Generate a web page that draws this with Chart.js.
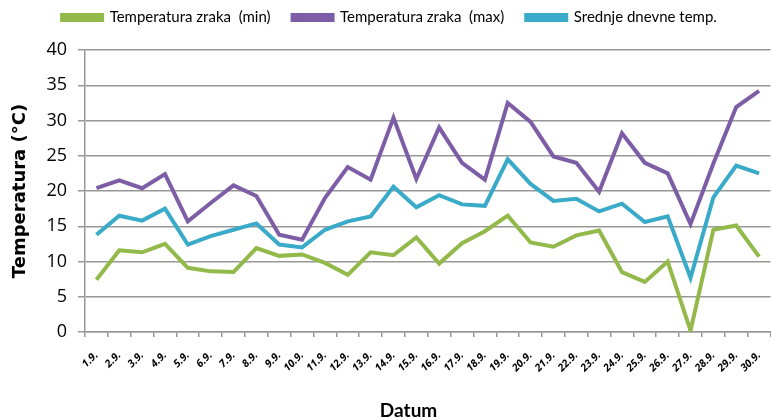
<!DOCTYPE html>
<html>
<head>
<meta charset="utf-8">
<script src="https://cdn.jsdelivr.net/npm/chart.js@4"></script>
<style>
  html, body { margin: 0; padding: 0; background: #fff; overflow: hidden; }
  #wrap { position: relative; width: 780px; height: 418px; }
</style>
</head>
<body>
<div id="wrap"><canvas id="myChart"></canvas></div>
<script>
const labels = ['1.9.', '2.9.', '3.9.', '4.9.', '5.9.', '6.9.', '7.9.', '8.9.', '9.9.', '10.9.',
    '11.9.', '12.9.', '13.9.', '14.9.', '15.9.', '16.9.', '17.9.', '18.9.', '19.9.', '20.9.',
    '21.9.', '22.9.', '23.9.', '24.9.', '25.9.', '26.9.', '27.9.', '28.9.', '29.9.', '30.9.'];

const tempMin = [7.4, 11.6, 11.3, 12.5, 9.1, 8.6, 8.5, 11.9, 10.8, 11.0,
    9.8, 8.1, 11.3, 10.9, 13.4, 9.7, 12.6, 14.3, 16.5, 12.7,
    12.1, 13.7, 14.4, 8.5, 7.1, 10.0, 0.2, 14.5, 15.1, 10.7];

const tempMax = [20.4, 21.5, 20.4, 22.4, 15.7, 18.3, 20.8, 19.3, 13.8, 13.1,
    19.0, 23.4, 21.6, 30.4, 21.7, 29.0, 24.0, 21.6, 32.5, 29.8,
    24.9, 24.0, 19.9, 28.2, 24.0, 22.5, 15.3, 23.9, 31.9, 34.2];

const tempAvg = [13.8, 16.5, 15.8, 17.5, 12.4, 13.6, 14.5, 15.4, 12.4, 12.0,
    14.5, 15.7, 16.4, 20.6, 17.7, 19.4, 18.1, 17.9, 24.5, 21.0,
    18.6, 18.9, 17.1, 18.2, 15.6, 16.4, 7.7, 19.1, 23.6, 22.5];

const yTicks = [0, 5, 10, 15, 20, 25, 30, 35, 40];
const xTitle = 'Datum';

window.onload = () => {
    const ctx = document.getElementById('myChart');
    const gridColor = '#979797';

    // fixed legend height so the plot starts where the reference does
    const legendHeight = {
        id: 'legendHeight',
        beforeInit(chart) {
            const fit = chart.legend.fit;
            chart.legend.fit = function () {
                fit.call(this);
                this.height = 62;
            };
        }
    };

    // x axis title sits a bit left of the plot centre in the reference
    const xTitlePlugin = {
        id: 'xTitle',
        afterDraw(chart) {
            const a = chart.chartArea;
            const c = chart.ctx;
            c.save();
            c.font = 'bold 19px Lato';
            c.fillStyle = '#000';
            c.textAlign = 'center';
            c.textBaseline = 'middle';
            c.fillText(xTitle, a.left + (a.right - a.left) * 0.472, a.bottom + 79);
            c.restore();
        }
    };

    const line = (label, data, color) => ({
        label: label,
        data: data,
        borderColor: color,
        backgroundColor: color,
        borderWidth: 4,
        pointRadius: 0,
        tension: 0,
        fill: false
    });

    new Chart(ctx, {
        type: 'line',
        data: {
            labels: labels,
            datasets: [
                line('Temperatura zraka  (min)', tempMin, '#93b94b'),
                line('Temperatura zraka  (max)', tempMax, '#7d5ea6'),
                line('Srednje dnevne temp.', tempAvg, '#3aaac9')
            ]
        },
        plugins: [legendHeight, xTitlePlugin],
        options: {
            responsive: true,
            maintainAspectRatio: false,
            animation: false,
            layout: { padding: { top: -12, right: 1, left: 0, bottom: 0 } },
            plugins: {
                legend: {
                    display: true,
                    position: 'top',
                    labels: {
                        boxWidth: 40,
                        boxHeight: 5,
                        padding: 22,
                        color: '#000',
                        font: { family: 'Lato', size: 15 }
                    }
                },
                tooltip: { enabled: false }
            },
            scales: {
                x: {
                    offset: true,
                    border: { display: true, color: gridColor, width: 1.5 },
                    grid: {
                        offset: true,
                        drawOnChartArea: false,
                        drawTicks: true,
                        tickLength: 5,
                        color: gridColor,
                        lineWidth: 1.5
                    },
                    ticks: {
                        autoSkip: false,
                        maxRotation: 45,
                        minRotation: 45,
                        color: '#000',
                        padding: 12,
                        font: { family: 'Open Sans', size: 10.5, weight: 'bold', style: 'italic' }
                    },
                    afterFit: (s) => { s.height = 86; }
                },
                y: {
                    min: 0,
                    max: 40,
                    afterBuildTicks: (s) => { s.ticks = yTicks.map(v => ({ value: v })); },
                    border: { display: true, color: gridColor, width: 1.5 },
                    grid: {
                        color: gridColor,
                        lineWidth: 1.5,
                        drawTicks: true,
                        tickLength: 7
                    },
                    ticks: {
                        color: '#000',
                        padding: 11,
                        font: { family: 'Open Sans', size: 18 }
                    },
                    title: {
                        display: true,
                        text: 'Temperatura (°C)',
                        color: '#000',
                        padding: { top: 10, bottom: 0 },
                        font: { family: 'DejaVu Sans', size: 18, weight: 'bold' }
                    },
                    afterFit: (s) => { s.width = 85; }
                }
            }
        }
    });
};
</script>
</body>
</html>
